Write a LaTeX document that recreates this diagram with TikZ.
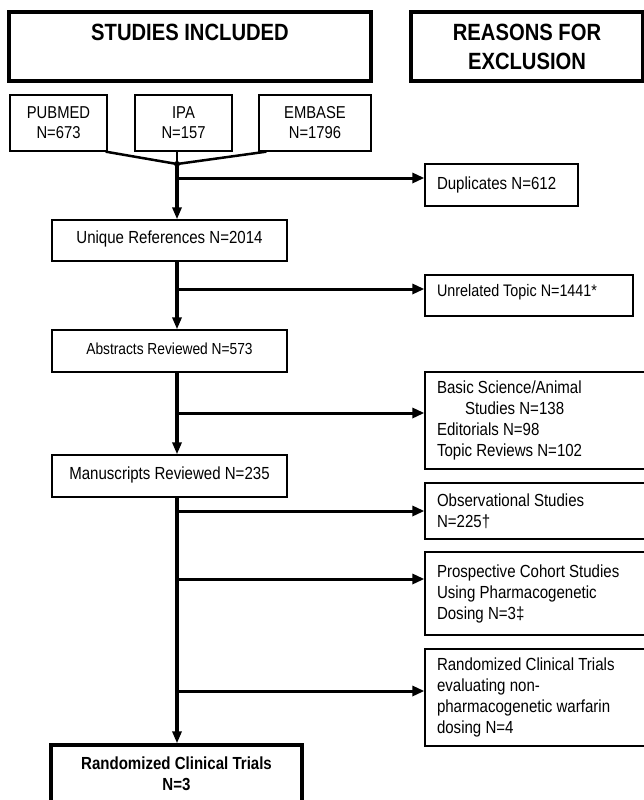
\documentclass[tikz,border=0pt]{standalone}
\usepackage{fontspec}
\setmainfont{Liberation Sans}[FakeStretch=0.86]
\usetikzlibrary{arrows.meta}
\begin{document}
\begin{tikzpicture}[x=1pt,y=-1pt,
  body/.style={font=\fontsize{17.5}{21}\selectfont},
  headbox/.style={draw, line width=3.3pt, inner sep=0pt, align=center,
    font=\bfseries\fontsize{23.5}{29}\selectfont},
  srcbox/.style={draw, line width=1.3pt, inner sep=0pt, align=center, minimum height=56pt,
    font=\fontsize{17.2}{20}\selectfont},
  mainbox/.style={draw, line width=1.3pt, inner sep=0pt, align=center, minimum width=235pt,
    minimum height=42pt, body},
  finalbox/.style={draw, line width=3.3pt, inner sep=0pt, align=center, minimum width=251pt,
    minimum height=58pt, font=\bfseries\fontsize{17.5}{21}\selectfont},
  exbox/.style={draw, line width=1.3pt, inner xsep=12pt, inner ysep=0pt, align=flush left, body},
  harr/.style={line width=3pt, -{Triangle[length=12pt,width=10pt]}},
  varr/.style={line width=3.2pt, -{Triangle[length=12pt,width=9pt]}},
  merge/.style={line width=2.5pt}
]
\useasboundingbox (0,0) rectangle (644,800);

% headers
\node[headbox, minimum width=362pt, minimum height=69pt] (studies) at (190,46.5) {STUDIES INCLUDED\\ ~};
\node[headbox, minimum width=232pt, minimum height=69pt] (reasons) at (527,46.5) {REASONS FOR\\ EXCLUSION};

% sources
\node[srcbox, minimum width=97pt] (pubmed) at (58.5,123) {PUBMED\\ N=673};
\node[srcbox, minimum width=97pt] (ipa) at (183.5,123) {IPA\\ N=157};
\node[srcbox, minimum width=112pt] (embase) at (315,123) {EMBASE\\ N=1796};

\node[circle, fill, inner sep=0pt, minimum size=6pt] (j) at (177,164) {};

% main column
\node[mainbox, minimum height=41pt] (unique) at (169.5,240.5) {\raisebox{1.5pt}[\height][\depth]{Unique References N=2014}};
\node[mainbox, font=\fontsize{16}{20}\selectfont] (abstracts) at (169.5,351) {\raisebox{2pt}[\height][\depth]{Abstracts Reviewed N=573}};
\node[mainbox] (manus) at (169.5,476) {\raisebox{1pt}[\height][\depth]{Manuscripts Reviewed N=235}};
\node[finalbox] (final) at (176.5,774) {Randomized Clinical Trials\\ N=3};

% exclusion boxes
\node[exbox, text width=129pt, minimum height=42pt] (dup) at (501.5,185) {Duplicates N=612};
\node[exbox, text width=184pt, minimum height=41pt, font=\fontsize{16.7}{20}\selectfont] (unrel) at (529,295.5) {\raisebox{3.5pt}[\height][\depth]{Unrelated Topic N=1441*}};
\node[exbox, text width=197pt, minimum height=97pt] (basic) at (535.5,420.5) {Basic Science/Animal\\ \hspace*{28pt}Studies N=138\\ Editorials N=98\\ Topic Reviews N=102};
\node[exbox, text width=197pt, minimum height=56pt] (obs) at (535.5,511) {Observational Studies\\ N=225†};
\node[exbox, text width=197pt, minimum height=83pt] (prosp) at (535.5,593.5) {Prospective Cohort Studies\\ Using Pharmacogenetic\\ Dosing N=3‡};
\node[exbox, text width=197pt, minimum height=97pt] (rctx) at (535.5,697.5) {Randomized Clinical Trials\\ evaluating non-\\ pharmacogenetic warfarin\\ dosing N=4};

% merging lines
\draw[merge] ([xshift=-2pt]pubmed.south east) -- (j.center);
\draw[merge] (j |- ipa.south) -- (j.center);
\draw[merge] ([xshift=8pt]embase.south west) -- (j.center);

% main vertical arrows
\draw[varr] (j.center) -- (j |- unique.north);
\draw[varr] (j |- unique.south) -- (j |- abstracts.north);
\draw[varr] (j |- abstracts.south) -- (j |- manus.north);
\draw[varr] (j |- manus.south) -- (j |- final.north);

% branch points
\coordinate (b1) at (177,178);
\coordinate (b2) at (177,289);
\coordinate (b3) at (177,413);
\coordinate (b4) at (177,511);
\coordinate (b5) at (177,579);
\coordinate (b6) at (177,691);
\draw[harr] ([xshift=-1.6pt]b1) -- (b1 -| dup.west);
\draw[harr] ([xshift=-1.6pt]b2) -- (b2 -| unrel.west);
\draw[harr] ([xshift=-1.6pt]b3) -- (b3 -| basic.west);
\draw[harr] ([xshift=-1.6pt]b4) -- (b4 -| obs.west);
\draw[harr] ([xshift=-1.6pt]b5) -- (b5 -| prosp.west);
\draw[harr] ([xshift=-1.6pt]b6) -- (b6 -| rctx.west);
\end{tikzpicture}
\end{document}
